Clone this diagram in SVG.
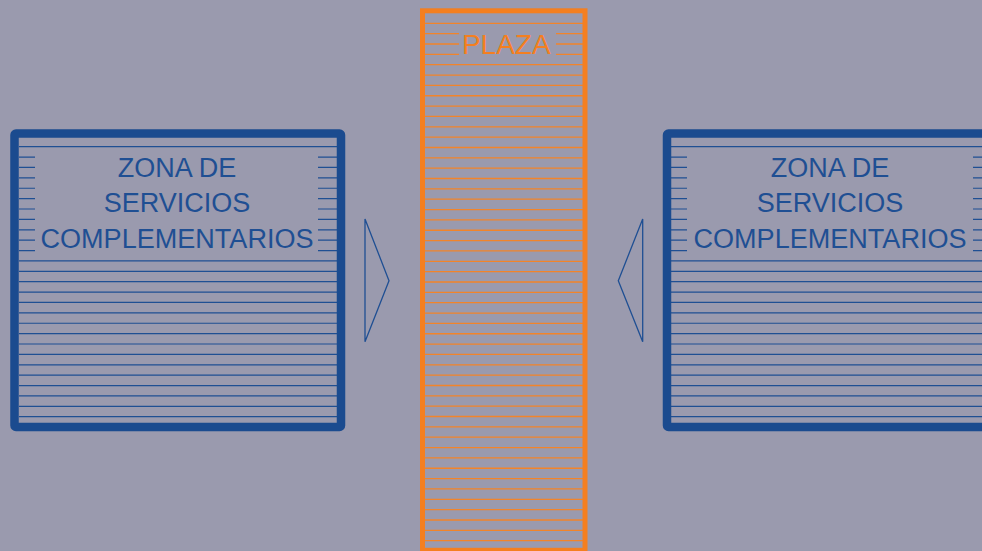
<svg xmlns="http://www.w3.org/2000/svg" width="982" height="551" viewBox="0 0 982 551">
<style>
.bg{fill:#9a9aae}
.zbox{fill:none;stroke:#1b4b8f;stroke-width:8.5;stroke-linejoin:round}
.zhatch{fill:none;stroke:#1f4f93;stroke-width:1.2}
.ztxt{font-family:"Liberation Sans",Arial,sans-serif;font-size:27px;fill:#1f4f93;text-anchor:middle}
.pbox{fill:none;stroke:#f47f20;stroke-width:5}
.phatch{fill:none;stroke:#f2842a;stroke-width:1.3}
.ptxt{font-family:"Liberation Sans",Arial,sans-serif;font-size:28px;fill:#f47f20;text-anchor:middle}
.arrow{fill:none;stroke:#1f4f93;stroke-width:1.3;stroke-linejoin:miter}
</style>
<rect class="bg" x="0" y="0" width="982" height="551"/>

<g id="zona-izq">
<path class="zhatch" d="M19 146.7H337 M19 157.08H35 M318 157.08H337 M19 167.47H35 M318 167.47H337 M19 177.85H35 M318 177.85H337 M19 188.24H35 M318 188.24H337 M19 198.62H35 M318 198.62H337 M19 209.01H35 M318 209.01H337 M19 219.39H35 M318 219.39H337 M19 229.78H35 M318 229.78H337 M19 240.16H35 M318 240.16H337 M19 250.55H35 M318 250.55H337 M19 260.93H337 M19 271.32H337 M19 281.7H337 M19 292.09H337 M19 302.47H337 M19 312.86H337 M19 323.24H337 M19 333.63H337 M19 344.01H337 M19 354.4H337 M19 364.78H337 M19 375.17H337 M19 385.55H337 M19 395.94H337 M19 406.32H337 M19 416.71H337"/>
<rect class="zbox" x="14.5" y="133.5" width="326.5" height="293.5" rx="1.5"/>
<text class="ztxt" x="177" y="177">ZONA DE</text>
<text class="ztxt" x="177" y="212">SERVICIOS</text>
<text class="ztxt" x="177" y="247.5" textLength="273" lengthAdjust="spacingAndGlyphs">COMPLEMENTARIOS</text>
</g>

<g id="plaza">
<path class="phatch" d="M425 23.3H583 M425 33.65H459 M556 33.65H583 M425 44H459 M556 44H583 M425 54.34H459 M556 54.34H583 M425 64.69H583 M425 75.04H583 M425 85.39H583 M425 95.74H583 M425 106.08H583 M425 116.43H583 M425 126.78H583 M425 137.13H583 M425 147.48H583 M425 157.82H583 M425 168.17H583 M425 178.52H583 M425 188.87H583 M425 199.22H583 M425 209.56H583 M425 219.91H583 M425 230.26H583 M425 240.61H583 M425 250.96H583 M425 261.3H583 M425 271.65H583 M425 282H583 M425 292.35H583 M425 302.7H583 M425 313.04H583 M425 323.39H583 M425 333.74H583 M425 344.09H583 M425 354.44H583 M425 364.78H583 M425 375.13H583 M425 385.48H583 M425 395.83H583 M425 406.18H583 M425 416.52H583 M425 426.87H583 M425 437.22H583 M425 447.57H583 M425 457.92H583 M425 468.26H583 M425 478.61H583 M425 488.96H583 M425 499.31H583 M425 509.66H583 M425 520H583 M425 530.35H583 M425 540.7H583"/>
<rect class="pbox" x="422.5" y="10.8" width="162.5" height="539.5"/>
<text class="ptxt" x="506.3" y="54">PLAZA</text>
</g>

<g id="zona-der">
<path class="zhatch" d="M671 146.7H990 M671 157.08H687 M973 157.08H990 M671 167.47H687 M973 167.47H990 M671 177.85H687 M973 177.85H990 M671 188.24H687 M973 188.24H990 M671 198.62H687 M973 198.62H990 M671 209.01H687 M973 209.01H990 M671 219.39H687 M973 219.39H990 M671 229.78H687 M973 229.78H990 M671 240.16H687 M973 240.16H990 M671 250.55H687 M973 250.55H990 M671 260.93H990 M671 271.32H990 M671 281.7H990 M671 292.09H990 M671 302.47H990 M671 312.86H990 M671 323.24H990 M671 333.63H990 M671 344.01H990 M671 354.4H990 M671 364.78H990 M671 375.17H990 M671 385.55H990 M671 395.94H990 M671 406.32H990 M671 416.71H990"/>
<rect class="zbox" x="667" y="133.5" width="326.5" height="293.5" rx="1.5"/>
<text class="ztxt" x="830" y="177">ZONA DE</text>
<text class="ztxt" x="830" y="212">SERVICIOS</text>
<text class="ztxt" x="830" y="247.5" textLength="273" lengthAdjust="spacingAndGlyphs">COMPLEMENTARIOS</text>
</g>

<g id="connectors">
<path class="arrow" d="M365 219 L389 280.7 L365 341.7 Z"/>
<path class="arrow" d="M642.7 219 L618.3 280.7 L642.7 341.7 Z"/>
</g>
</svg>
